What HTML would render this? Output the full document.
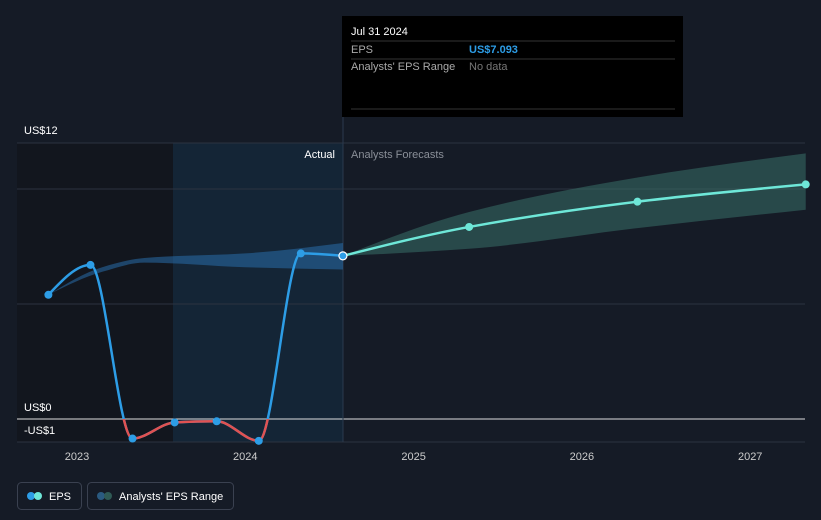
<!DOCTYPE html>
<html><head><meta charset="utf-8"><style>
body{margin:0;background:#151b26;font-family:"Liberation Sans",sans-serif;}
svg{display:block}
</style></head><body>
<svg width="821" height="520" id="c">
<rect width="821" height="520" fill="#151b26"/>
<rect x="17" y="143" width="156" height="299" fill="#12161e"/>
<rect x="173" y="143" width="170" height="299" fill="#142536"/>
<g id="grid"></g>
<text x="24" y="134" fill="#fff" font-size="11">US$12</text>
<text x="24" y="411" fill="#fff" font-size="11">US$0</text>
<text x="24" y="434" fill="#fff" font-size="11">-US$1</text>
<text x="335" y="158" fill="#fff" font-size="11" text-anchor="end">Actual</text>
<text x="351" y="158" fill="#8a8f98" font-size="11">Analysts Forecasts</text>
<line x1="343" y1="117" x2="343" y2="442" stroke="#2a3a4d"/>
<g id="marks"></g>
<g id="xt"></g>
<g>
<rect x="342" y="16" width="341" height="101" fill="#000"/>
<text x="351" y="35" fill="#fff" font-size="11">Jul 31 2024</text>
<line x1="351" y1="41" x2="675" y2="41" stroke="#333"/>
<text x="351" y="53" fill="#aaa" font-size="11">EPS</text>
<text x="469" y="53" fill="#2d9de6" font-size="11" font-weight="bold">US$7.093</text>
<line x1="351" y1="59" x2="675" y2="59" stroke="#333"/>
<text x="351" y="70" fill="#aaa" font-size="11">Analysts' EPS Range</text>
<text x="469" y="70" fill="#777" font-size="11">No data</text>
<line x1="351" y1="109" x2="675" y2="109" stroke="#333"/>
</g>
<g>
<rect x="17.5" y="482.5" width="64" height="27" rx="4" fill="none" stroke="#3a4150"/>
<circle cx="31" cy="496" r="4" fill="#2d9de6"/><circle cx="38" cy="496" r="4" fill="#6ee7d8"/>
<text x="49" y="500" fill="#fff" font-size="11">EPS</text>
</g>
<g>
<rect x="87.5" y="482.5" width="146" height="27" rx="4" fill="none" stroke="#3a4150"/>
<circle cx="101" cy="496" r="4" fill="#2a5a80"/><circle cx="108" cy="496" r="4" fill="#2f5a55"/>
<text x="119" y="500" fill="#fff" font-size="11">Analysts' EPS Range</text>
</g>
</svg>
<script>
const actX=[2022.83,2023.08,2023.33,2023.58,2023.83,2024.08,2024.33,2024.58];
const actY=[5.4,6.7,-0.85,-0.15,-0.1,-0.95,7.2,7.093];
const fcX=[2024.58,2025.33,2026.33,2027.33];
const fcY=[7.093,8.35,9.45,10.2];
const bandAX=[2022.83,2023.15,2023.4,2024.0,2024.58];
const bandAHi=[5.4,6.6,7.0,7.2,7.65];
const bandALo=[5.4,6.4,6.8,6.6,6.5];
const bandFX=[2024.58,2025.33,2026.33,2027.33];
const bandFHi=[7.093,9.0,10.5,11.55];
const bandFLo=[7.093,7.4,8.3,9.1];
const yTicks=[-1,0,5,10,12];
const xTicks=[2023,2024,2025,2026,2027];
const sx=v=>77+(v-2023)*168.3, sy=v=>419-v*23;
const NS="http://www.w3.org/2000/svg";
function mk(t,a,p){const e=document.createElementNS(NS,t);for(const k in a)e.setAttribute(k,a[k]);p.appendChild(e);return e;}
function path(xs,ys){const P=xs.map((x,i)=>[sx(x),sy(ys[i])]);const n=P.length;
const s=[];for(let i=0;i<n-1;i++)s.push((P[i+1][1]-P[i][1])/(P[i+1][0]-P[i][0]));
const m=[];for(let i=0;i<n;i++){if(i==0)m.push(s[0]);else if(i==n-1)m.push(s[n-2]);else{if(s[i-1]*s[i]<=0)m.push(0);else{const h0=P[i][0]-P[i-1][0],h1=P[i+1][0]-P[i][0];m.push(3*(h0+h1)/((2*h1+h0)/s[i-1]+(h1+2*h0)/s[i]));}}}
if(n>2){m[0]=s[0]*1.5-m[1]*0.5;if(m[0]*s[0]<0)m[0]=0;m[n-1]=s[n-2]*1.5-m[n-2]*0.5;if(m[n-1]*s[n-2]<0)m[n-1]=0;}
let d="M"+P[0];for(let i=0;i<n-1;i++){const h=(P[i+1][0]-P[i][0])/3;d+=" C"+(P[i][0]+h)+","+(P[i][1]+m[i]*h)+" "+(P[i+1][0]-h)+","+(P[i+1][1]-m[i+1]*h)+" "+P[i+1];}return d;}
const g=document.getElementById('grid');
yTicks.forEach(v=>{const l=mk('line',{x1:17,x2:805,y1:sy(v),y2:sy(v),stroke:v==0?"#ddd":"#2c3340"},g);

});
const xt=document.getElementById('xt');
xTicks.forEach(v=>{const t=mk('text',{x:sx(v),y:460,fill:"#ccc","font-size":11,"text-anchor":"middle"},xt);t.textContent=v;

});
const m=document.getElementById('marks');
function band(xs,hi,lo,fill,name){const d=path(xs,hi)+" L"+path(xs.slice().reverse(),lo.slice().reverse()).slice(1)+"Z";const e=mk('path',{d:d,fill:fill},m);

}
band(bandAX,bandAHi,bandALo,"rgba(40,110,170,0.55)",'actual-range-band');
band(bandFX,bandFHi,bandFLo,"rgba(60,120,110,0.5)",'forecast-range-band');
const la=mk('path',{d:path(actX,actY),fill:"none",stroke:"#2d9de6","stroke-width":2.5},m);


const cp=mk('clipPath',{id:"neg"},m);mk('rect',{x:0,y:sy(0),width:821,height:100},cp);
const ln=mk('path',{d:path(actX,actY),fill:"none",stroke:"#e05252","stroke-width":2.5,"clip-path":"url(#neg)"},m);


const lf=mk('path',{d:path(fcX,fcY),fill:"none",stroke:"#6ee7d8","stroke-width":2.5},m);


actX.forEach((x,i)=>{const last=i==actX.length-1;const c=mk('circle',{cx:sx(x),cy:sy(actY[i]),r:4,fill:"#2d9de6",stroke:last?"#fff":"none","stroke-width":1.2},m);

});
fcX.slice(1).forEach((x,i)=>{const c=mk('circle',{cx:sx(x),cy:sy(fcY[i+1]),r:4,fill:"#6ee7d8"},m);

});
</script>
</body></html>
